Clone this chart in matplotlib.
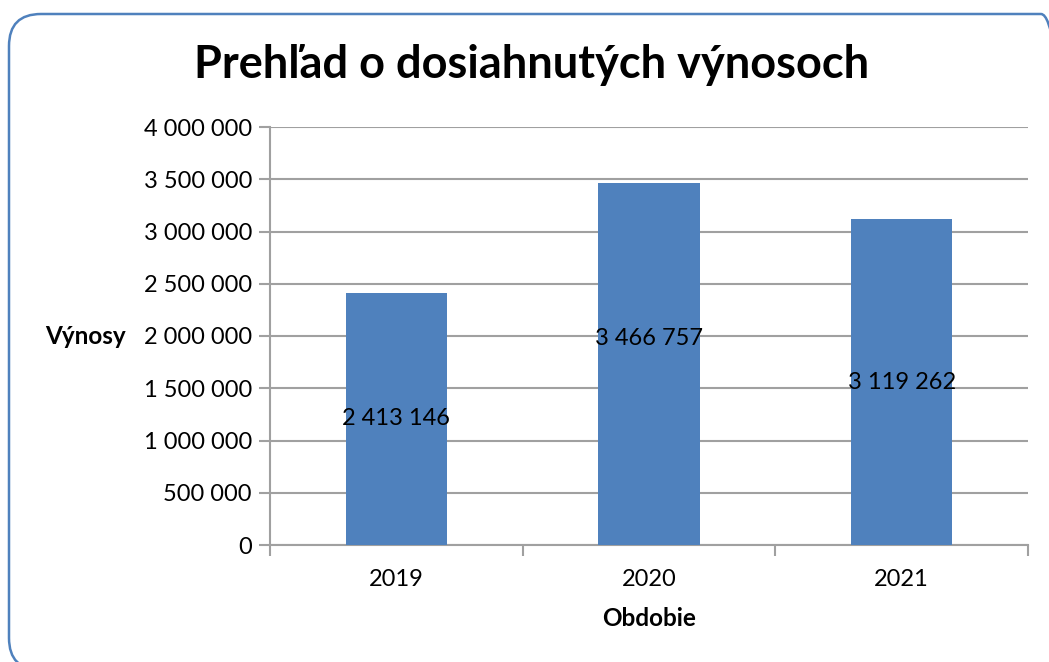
import matplotlib.pyplot as plt
from matplotlib.patches import FancyBboxPatch
from matplotlib.transforms import IdentityTransform
from matplotlib.ticker import FuncFormatter

years = ["2019", "2020", "2021"]
vynosy = [2413146, 3466757, 3119262]
# where the value label sits, as a share of the bar height
label_pos = [0.5, 0.57, 0.5]

def fmt(v, pos=None):
    return "{:,.0f}".format(v).replace(",", " ")

plt.rcParams['font.family'] = ['Lato', 'DejaVu Sans']

fig = plt.figure(figsize=(10.49, 6.62), dpi=100)
W, H = 1049, 662

# rounded border, in pixels (origin bottom-left)
box = FancyBboxPatch((9, -8), 1064, 656,
                     boxstyle="round,pad=0,rounding_size=32",
                     transform=IdentityTransform(), fill=False,
                     edgecolor="#4F81BD", linewidth=1.8)
fig.patches.append(box)

ax = fig.add_axes([270 / W, (H - 545) / H, (1028 - 270) / W, (545 - 127) / H])
x = range(len(years))
ax.bar(x, vynosy, width=0.4, color="#4F81BD", zorder=3)
for i, v in enumerate(vynosy):
    ax.text(i, v * label_pos[i], fmt(v), ha="center", va="center",
            fontsize=17, zorder=4)

ax.set_xlim(-0.5, 2.5)
ax.set_ylim(0, 4000000)
ax.set_yticks(range(0, 4000001, 500000))
ax.yaxis.set_major_formatter(FuncFormatter(fmt))
ax.set_xticks([-0.5, 0.5, 1.5, 2.5])
ax.set_xticklabels([])
ax.set_xticks(list(x), minor=True)
ax.set_xticklabels(years, minor=True)
ax.tick_params(axis="x", which="minor", length=0, labelsize=17, pad=17)
ax.tick_params(axis="x", which="major", length=8, color="#A0A0A0", width=1.5)
ax.tick_params(axis="y", length=8, color="#A0A0A0", width=1.5, labelsize=17, pad=5)
ax.grid(axis="y", color="#A0A0A0", linewidth=1.5, zorder=0)
for s in ["top", "right"]:
    ax.spines[s].set_visible(False)
for s in ["left", "bottom"]:
    ax.spines[s].set_color("#A0A0A0")
    ax.spines[s].set_linewidth(1.5)

fig.text(532 / W, 1 - 65 / H, "Prehľad o dosiahnutých výnosoch",
         ha="center", va="center", fontsize=32.5, fontweight="bold")
fig.text(85 / W, 1 - 337 / H, "Výnosy", ha="center", va="center",
         fontsize=17.5, fontweight="bold")
fig.text(649 / W, 1 - 618 / H, "Obdobie", ha="center", va="center",
         fontsize=17.5, fontweight="bold")

fig.savefig("out.png", dpi=100)
